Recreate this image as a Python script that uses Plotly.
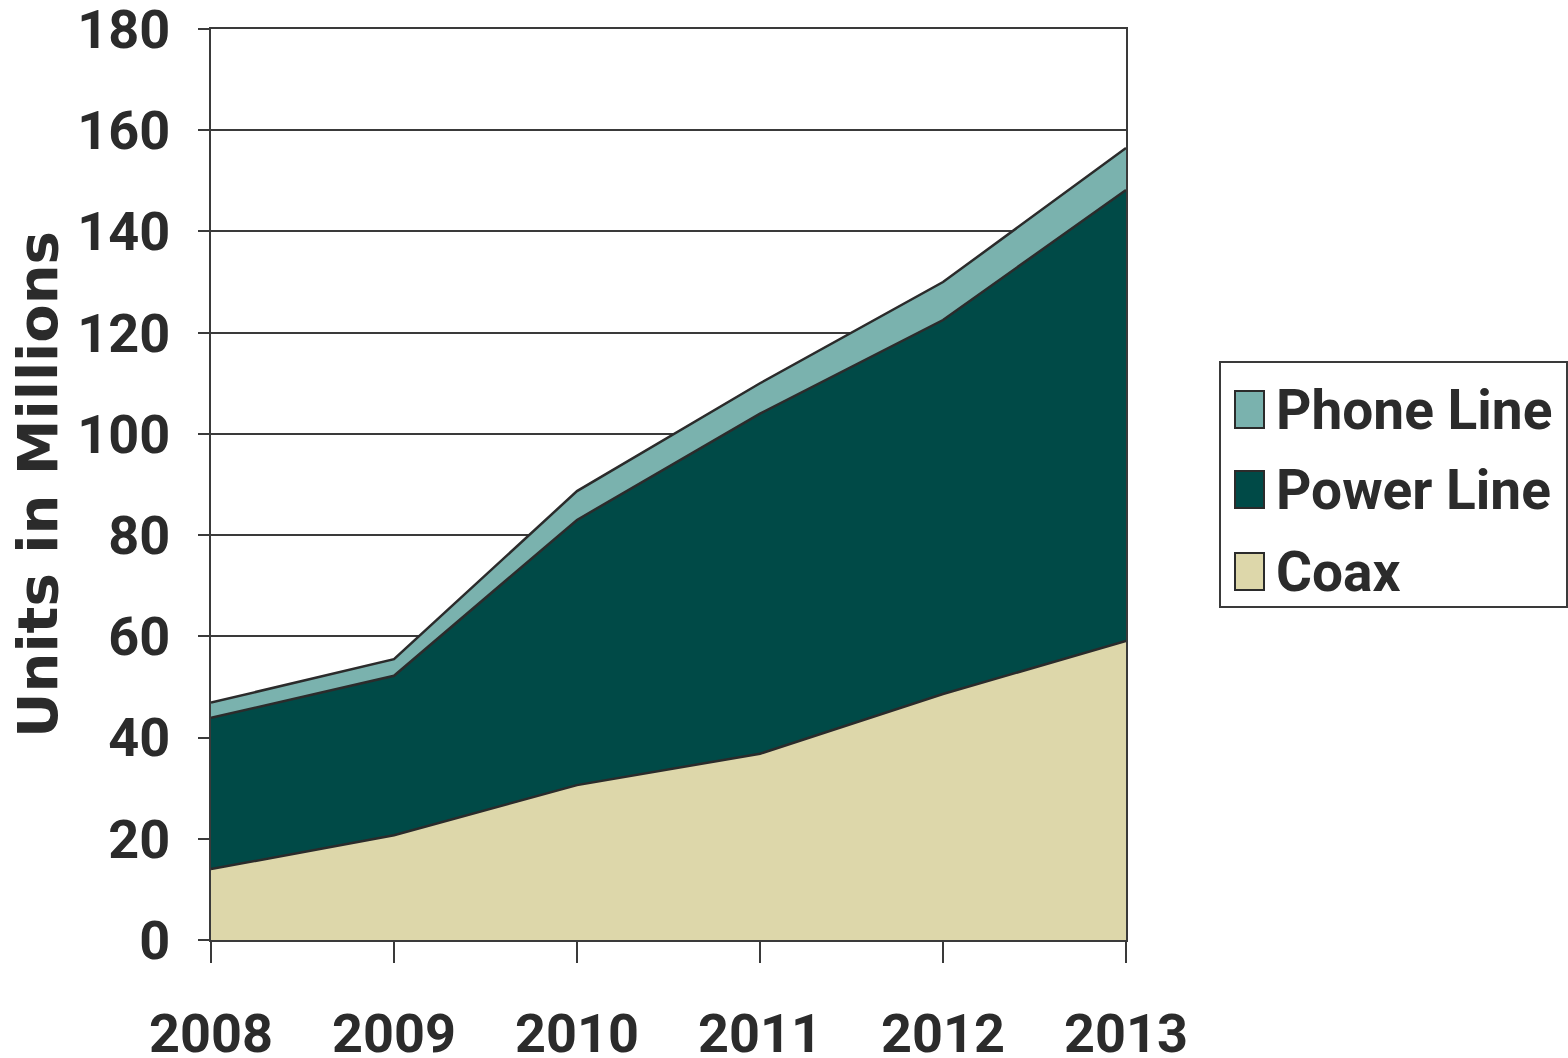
import plotly.graph_objects as go

# Home-network units shipped, millions, by medium
years = [2008, 2009, 2010, 2011, 2012, 2013]
coax = [14.0, 20.7, 30.6, 36.8, 48.6, 59.1]
power_line = [29.9, 31.5, 52.4, 67.2, 73.9, 89.1]
phone_line = [3.0, 3.3, 5.7, 6.0, 7.5, 8.3]

series_names = ["Coax", "Power Line", "Phone Line"]
series_colors = {"Coax": "#DDD7AA", "Power Line": "#004A47", "Phone Line": "#7AB2AE"}

y_ticks = [0, 20, 40, 60, 80, 100, 120, 140, 160, 180]

INK = "#2B2B2B"
FONT = "Roboto"

fig = go.Figure()
for name, vals in zip(series_names, [coax, power_line, phone_line]):
    fig.add_trace(go.Scatter(
        x=years, y=vals, name=name, mode="lines",
        stackgroup="units",
        line=dict(color=INK, width=2.5),
        fillcolor=series_colors[name],
        showlegend=False,
        hoverinfo="x+y+name",
    ))

W, H = 1568, 1058
L, R, T, B = 211, 442, 29, 118
pw, ph = W - L - R, H - T - B


def px_x(x):
    return (x - L) / pw


def px_y(y):
    return (H - B - y) / ph


# legend box drawn in paper space to the right of the plot
shapes = [dict(type="rect", xref="paper", yref="paper",
               x0=px_x(1220), x1=px_x(1567), y0=px_y(607), y1=px_y(362),
               line=dict(color="#3A3A3A", width=2), fillcolor="white", layer="above")]
annotations = []
legend_rows = [("Phone Line", 410), ("Power Line", 490), ("Coax", 572)]
for name, cy in legend_rows:
    shapes.append(dict(type="rect", xref="paper", yref="paper",
                       x0=px_x(1235), x1=px_x(1264), y0=px_y(cy + 18), y1=px_y(cy - 19),
                       line=dict(color=INK, width=2), fillcolor=series_colors[name],
                       layer="above"))
    annotations.append(dict(xref="paper", yref="paper", x=px_x(1274), y=px_y(cy),
                            xanchor="left", yanchor="middle", showarrow=False,
                            text=name, font=dict(family=FONT, size=55, color=INK,
                                                 weight="bold")))

fig.update_layout(
    width=W, height=H,
    margin=dict(l=L, r=R, t=T, b=B, autoexpand=False),
    paper_bgcolor="white", plot_bgcolor="white",
    font=dict(family=FONT, color=INK),
    showlegend=False,
    shapes=shapes,
    annotations=annotations,
    xaxis=dict(
        range=[years[0], years[-1]],
        tickmode="array", tickvals=years, ticktext=[str(y) for y in years],
        ticks="outside", ticklen=21, tickwidth=2, tickcolor="#3A3A3A",
        ticklabelstandoff=24, ticklabeloverflow="allow",
        tickfont=dict(family=FONT, size=54, color=INK, weight="bold"),
        showline=True, linecolor="#3A3A3A", linewidth=2, mirror=True,
        showgrid=False, zeroline=False,
    ),
    yaxis=dict(
        range=[0, 180],
        tickmode="array", tickvals=y_ticks,
        ticks="outside", ticklen=11, tickwidth=2, tickcolor="#3A3A3A",
        ticklabelstandoff=17, ticklabeloverflow="allow",
        tickfont=dict(family=FONT, size=54, color=INK, weight="bold"),
        showline=True, linecolor="#3A3A3A", linewidth=2, mirror=True,
        showgrid=True, gridcolor="#3A3A3A", gridwidth=1.5,
        zeroline=False,
        title=dict(text="Units in Millions", standoff=2,
                   font=dict(family="DejaVu Sans", size=56, color=INK, weight="bold")),
    ),
)

fig.write_html("out.html")
